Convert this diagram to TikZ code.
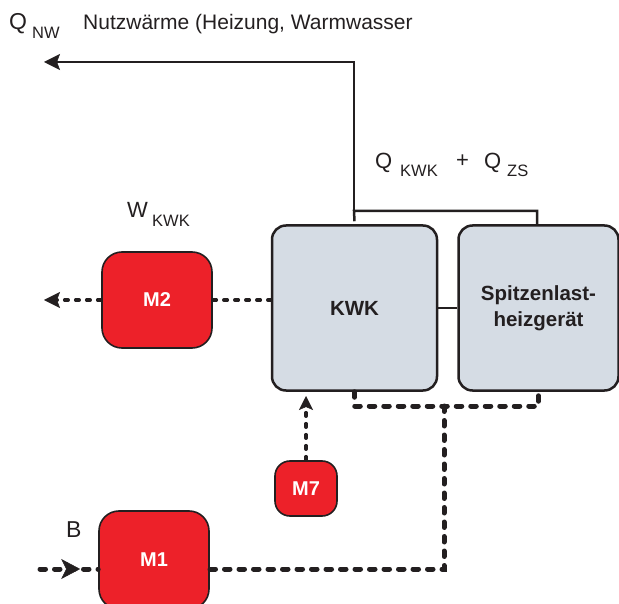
\documentclass[tikz,border=0pt]{standalone}
\usepackage{fontspec}
\setmainfont{Liberation Sans}
\usetikzlibrary{arrows.meta,decorations.markings}
\definecolor{mred}{HTML}{ED2129}
\definecolor{boxgray}{HTML}{D5DCE4}
\definecolor{ink}{HTML}{231F20}
\begin{document}
\begin{tikzpicture}[x=1pt,y=-1pt,
  unit/.style={draw=ink, line width=2.5pt, fill=boxgray, rounded corners=14pt,
    font=\fontsize{20.5}{26}\selectfont\bfseries, text=ink, align=center, inner sep=0},
  mbox/.style={draw=ink, line width=1.6pt, fill=mred, rounded corners=#1,
    font=\fontsize{20}{22}\selectfont\bfseries, text=white, inner sep=0},
  solidline/.style={draw=ink, line width=2.5pt},
  dotthin/.style={draw=ink, line width=3.5pt, line cap=round, dash pattern=on 3.5pt off 7.5pt},
  dotthick/.style={draw=ink, line width=5pt, line cap=round, dash pattern=on 5.5pt off 9pt},
  lbl/.style={inner sep=0, anchor=base west, font=\fontsize{22}{22}\selectfont, text=ink},
  sublbl/.style={inner sep=0, anchor=base west, font=\fontsize{16.5}{16.5}\selectfont, text=ink},
  tip/.style={-{Stealth[length=#1, width=#1, inset=3pt, line width=0.5pt]}},
]
\useasboundingbox (0,0) rectangle (619,604);

% boxes
\node[unit, minimum width=165pt, minimum height=165pt] (kwk) at (354.5,308) {KWK};
\node[unit, minimum width=160pt, minimum height=165pt] (spitz) at (538.5,308) {Spitzenlast-\\heizgerät};
\node[mbox=20pt, minimum width=110pt, minimum height=96pt] (m2) at (157,300) {M2};
\node[mbox=15pt, minimum width=62pt, minimum height=55pt] (m7) at (306,488.5) {M7};
\node[mbox=20pt, minimum width=110pt, minimum height=98pt] (m1) at (154,560) {M1};

% coordinates
\coordinate (bl) at (354,211);
\coordinate (br) at (537,211);
\coordinate (qtop) at (354,62);
\coordinate (qnw) at (44,62);
\coordinate (wout) at (44,300);
\coordinate (m7tip) at (306,396);
\coordinate (j) at (444,406);
\coordinate (jb) at (444,569);
\coordinate (bin) at (40,569);

% solid heat lines
\draw[solidline] (kwk.east) -- (spitz.west);
\draw[solidline] ([yshift=3pt]kwk.north) -- (bl) -- (br) -- (br |- spitz.north);
\draw[solidline, tip=16pt] (bl) -- (qtop) -- (qnw);

% dotted lines
\draw[dotthin] (m2.east) -- (m2.east -| kwk.west);
\draw[dotthin, tip=16pt] (m2.west) -- (wout);
\draw[dotthin, tip=14pt] (m7.north) -- (m7tip);
\draw[dotthick] (kwk.south) -- (kwk.south |- j) -- (spitz.south |- j) -- (spitz.south);
\draw[dotthick] (j) -- (jb) -- (jb -| m1.east);
\draw[dotthick, postaction={decorate}, decoration={markings,
  mark=at position 0.69 with {\arrow{Stealth[length=19pt, width=20pt, inset=5pt, line width=0.5pt]}}}]
  (bin) -- (bin -| m1.west);

% labels
\node[lbl, font=\fontsize{23}{23}\selectfont] (q1) at (9,30) {Q};
\node[sublbl] (q1s) at (32,39) {NW};
\node[lbl, font=\fontsize{21}{21}\selectfont] (nw) at (83,30) {Nutzwärme (Heizung, Warmwasser};
\node[lbl] (q2) at (375,169) {Q};
\node[sublbl] (q2s) at (400,177) {KWK};
\node[lbl] (plus) at (456,168) {+};
\node[lbl] (q3) at (484,169) {Q};
\node[sublbl] (q3s) at (507,177) {ZS};
\node[lbl] (w) at (127,218) {W};
\node[sublbl] (ws) at (152,227) {KWK};
\node[lbl, font=\fontsize{23}{23}\selectfont] (b) at (66,537) {B};
\end{tikzpicture}
\end{document}
